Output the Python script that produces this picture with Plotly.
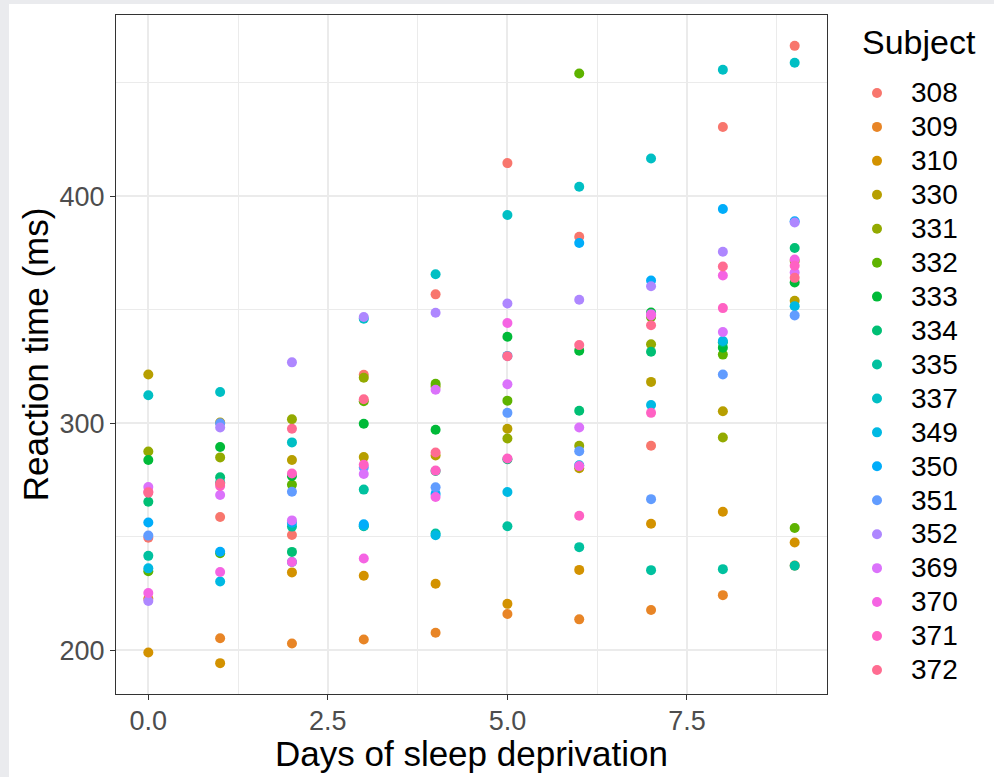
import plotly.graph_objects as go

days = [0, 1, 2, 3, 4, 5, 6, 7, 8, 9]
subjects = ["308", "309", "310", "330", "331", "332", "333", "334", "335",
            "337", "349", "350", "351", "352", "369", "370", "371", "372"]

r308 = [249.56, 258.70, 250.80, 321.44, 356.85, 414.69, 382.20, 290.15, 430.59, 466.35]
r309 = [222.73, 205.27, 202.98, 204.71, 207.72, 215.96, 213.63, 217.73, 224.30, 237.31]
r310 = [199.05, 194.33, 234.32, 232.84, 229.31, 220.46, 235.42, 255.75, 261.01, 247.52]
r330 = [321.54, 300.40, 283.86, 285.13, 285.80, 297.59, 280.24, 318.26, 305.35, 354.05]
r331 = [287.61, 285.00, 301.82, 320.12, 316.28, 293.32, 290.08, 334.82, 293.75, 371.58]
r332 = [234.86, 242.81, 272.96, 309.77, 317.46, 310.00, 454.16, 346.83, 330.30, 253.86]
r333 = [283.84, 289.56, 276.77, 299.81, 297.17, 338.17, 332.03, 348.84, 333.36, 362.04]
r334 = [265.47, 276.20, 243.36, 254.67, 279.02, 284.19, 305.52, 331.52, 335.75, 377.30]
r335 = [241.61, 273.95, 254.49, 270.80, 251.45, 254.64, 245.45, 235.31, 235.75, 237.25]
r337 = [312.37, 313.81, 291.61, 346.12, 365.73, 391.84, 404.26, 416.69, 455.86, 458.92]
r349 = [236.10, 230.32, 238.93, 254.92, 250.71, 269.77, 281.56, 308.10, 336.28, 351.65]
r350 = [256.30, 243.45, 256.20, 255.53, 268.92, 329.72, 379.44, 362.92, 394.49, 389.05]
r351 = [250.53, 300.06, 269.89, 280.59, 271.83, 304.63, 287.75, 266.60, 321.54, 347.57]
r352 = [221.68, 298.19, 326.88, 346.86, 348.74, 352.83, 354.43, 360.43, 375.64, 388.54]
r369 = [271.92, 268.44, 257.24, 277.66, 314.82, 317.21, 298.14, 348.12, 340.28, 366.51]
r370 = [225.26, 234.52, 238.90, 240.47, 267.54, 344.19, 281.15, 347.59, 365.16, 372.23]
r371 = [269.88, 272.44, 277.90, 281.79, 279.17, 284.51, 259.27, 304.63, 350.78, 369.47]
r372 = [269.41, 273.47, 297.60, 310.63, 287.17, 329.61, 334.48, 343.22, 369.14, 364.12]

reactions = [r308, r309, r310, r330, r331, r332, r333, r334, r335,
             r337, r349, r350, r351, r352, r369, r370, r371, r372]

colors = ["#F8766D", "#E88526", "#D39200", "#B79F00", "#93AA00", "#5EB300",
          "#00BA38", "#00BF74", "#00C19F", "#00BFC4", "#00B9E3", "#00ADFA",
          "#619CFF", "#AE87FF", "#DB72FB", "#F564E3", "#FF61C3", "#FF6C91"]

x_ticks = [0, 2.5, 5, 7.5]
x_ticktext = ["0.0", "2.5", "5.0", "7.5"]
y_ticks = [200, 300, 400]

FONT = "Liberation Sans, Arial, sans-serif"

W, H = 994, 777
ML, MR, MT, MB = 116, 167, 15, 83
PW = W - ML - MR
PH = H - MT - MB

fig = go.Figure()
for subj, vals, col in zip(subjects, reactions, colors):
    fig.add_trace(go.Scatter(
        x=days, y=vals, mode="markers",
        name='<span style="font-size:28px">' + subj + '</span>',
        legendgroup=subj,
        marker=dict(color=col, size=10, line=dict(width=0)),
    ))

grid = "#EBEBEB"
axis_common = dict(
    showline=True, mirror=True, linecolor="#333333", linewidth=1.3,
    ticks="outside", ticklen=5, tickcolor="#333333", tickwidth=1.3,
    tickfont=dict(size=27, color="#4D4D4D", family=FONT),
    showgrid=True, gridcolor=grid, gridwidth=1.6, zeroline=False,
    automargin=False,
)

fig.update_layout(
    width=W, height=H,
    margin=dict(l=ML, r=MR, t=MT, b=MB, autoexpand=False),
    paper_bgcolor="white", plot_bgcolor="white",
    font=dict(family=FONT, color="black"),
    xaxis=dict(
        range=[-0.45, 9.45], tickvals=x_ticks, ticktext=x_ticktext,
        ticklabelstandoff=-3,
        minor=dict(tickvals=[1.25, 3.75, 6.25, 8.75], showgrid=True,
                   gridcolor=grid, gridwidth=0.8, ticks=""),
        **axis_common,
    ),
    yaxis=dict(
        range=[180.73, 479.95], tickvals=y_ticks,
        minor=dict(tickvals=[250, 350, 450], showgrid=True,
                   gridcolor=grid, gridwidth=0.8, ticks=""),
        title=dict(text="Reaction time (ms)",
                   font=dict(size=35, color="black", family=FONT), standoff=0),
        **axis_common,
    ),
    legend=dict(
        font=dict(size=23.8, color="black", family=FONT),
        xref="container", yref="container",
        x=843 / W, y=1 - 71 / H, xanchor="left", yanchor="top",
        itemwidth=58, tracegroupgap=0, bgcolor="rgba(0,0,0,0)",
        maxheight=700,
    ),
    annotations=[
        dict(text="Subject", xref="paper", yref="paper",
             x=(860 - ML) / PW, y=(H - MB - 42) / PH,
             xanchor="left", yanchor="middle", showarrow=False,
             font=dict(size=34, color="black", family=FONT)),
        dict(text="Days of sleep deprivation", xref="paper", yref="paper",
             x=0.5, y=(H - MB - 754) / PH,
             xanchor="center", yanchor="middle", showarrow=False,
             font=dict(size=35, color="black", family=FONT)),
    ],
    shapes=[
        dict(type="rect", xref="paper", yref="paper",
             x0=-0.2, x1=(9 - ML) / PW, y0=-0.2, y1=1.1,
             fillcolor="#EAEBEE", line=dict(width=0), layer="below"),
        dict(type="rect", xref="paper", yref="paper",
             x0=-0.2, x1=1.3, y0=(H - MB - 4) / PH, y1=1.1,
             fillcolor="#EAEBEE", line=dict(width=0), layer="below"),
    ],
)

fig.write_html("out.html")
